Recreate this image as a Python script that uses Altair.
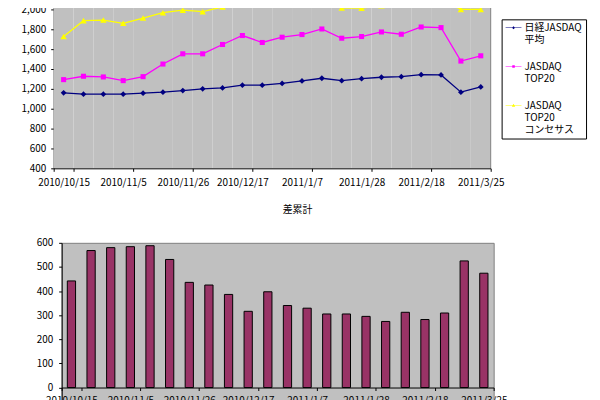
import altair as alt
import pandas as pd

FONT = "Noto Sans CJK JP"

dates = ["2010/10/15", "2010/10/22", "2010/10/29", "2010/11/5", "2010/11/12", "2010/11/19",
         "2010/11/26", "2010/12/3", "2010/12/10", "2010/12/17", "2010/12/24", "2010/12/31",
         "2011/1/7", "2011/1/14", "2011/1/21", "2011/1/28", "2011/2/4", "2011/2/11",
         "2011/2/18", "2011/2/25", "2011/3/18", "2011/3/25"]
nikkei = [1160, 1147, 1147, 1147, 1157, 1167, 1183, 1200, 1210, 1237, 1237, 1255,
          1280, 1307, 1283, 1303, 1317, 1323, 1343, 1340, 1167, 1220]
top20 = [1293, 1327, 1320, 1283, 1323, 1450, 1553, 1553, 1647, 1737, 1667, 1720,
         1747, 1803, 1710, 1727, 1773, 1750, 1823, 1817, 1480, 1533]
consensus = [1727, 1887, 1893, 1860, 1913, 1967, 1993, 1977, 2025, 2048, 2050, 2048,
             2060, 2120, 2015, 2013, 2037, 2060, 2080, 2100, 2000, 2000]
diff_cum = [442, 568, 580, 584, 588, 531, 436, 425, 386, 316, 397, 340,
            329, 305, 305, 295, 274, 312, 282, 309, 525, 474]

series_names = ["日経JASDAQ\n平均", "JASDAQ\nTOP20", "JASDAQ\nTOP20\nコンセサス"]
series_colors = ["#000080", "#FF00FF", "#FFFF00"]
marker_shapes = ["diamond", "square", "triangle-up"]
marker_sizes = [34, 26, 42]
legend_paths = [
    "M-1,-0.48H1V-0.40H-1Z M0,-0.62L0.19,-0.44L0,-0.26L-0.19,-0.44Z",
    "M-1,-0.48H1V-0.40H-1Z M-0.16,-0.60H0.16V-0.28H-0.16Z",
    "M-1,-0.48H1V-0.40H-1Z M0,-0.64L0.21,-0.26H-0.21Z",
]
top_domain = [400, 2200]
top_ticks = list(range(400, 2001, 200))
bar_domain = [-100, 600]
bar_ticks = list(range(-100, 601, 100))
bar_title = "差累計"
label_dates = dates[::3]

PLOT_BG = "#C0C0C0"
BORDER = "#808080"

rows = []
for name, vals in zip(series_names, [nikkei, top20, consensus]):
    for d, v in zip(dates, vals):
        rows.append({"date": d, "series": name, "value": v})
df_lines = pd.DataFrame(rows)
df_bar = pd.DataFrame({"date": dates, "diff": diff_cum})
df_bg = pd.DataFrame({"date": dates, "lo": top_domain[0], "hi": top_domain[1]})

axis_common = dict(title=None, labelFontSize=10, domainColor="black", tickColor="black",
                   labelColor="black", labelFont=FONT, tickSize=3)


def x_scale_top():
    return alt.Scale(type="band", domain=dates, range=[-8, 432], paddingInner=0,
                     paddingOuter=0)


def y_scale_top():
    return alt.Scale(domain=top_domain, nice=False, zero=False)


def x_axis_top():
    return alt.Axis(values=label_dates, tickBand="extent", labelAngle=0, labelPadding=6,
                    **axis_common)


def y_axis_top():
    return alt.Axis(values=top_ticks, format=",.0f", grid=False, labelPadding=5, offset=8,
                    **axis_common)


x_top = alt.X("date:N", sort=dates, scale=x_scale_top(), axis=x_axis_top())
y_top = alt.Y("value:Q", scale=y_scale_top(), axis=y_axis_top())

bg = alt.Chart(df_bg).mark_rect(color=PLOT_BG, strokeWidth=0).encode(
    x=alt.X("date:N", sort=dates, scale=x_scale_top(), axis=x_axis_top()),
    y=alt.Y("lo:Q", scale=y_scale_top(), axis=y_axis_top()),
    y2="hi:Q",
)
right_border = alt.Chart(df_bg).transform_filter(
    alt.FieldOneOfPredicate(field="date", oneOf=[dates[-1]])
).mark_rule(color=BORDER, strokeWidth=1).encode(
    x=alt.X("date:N", sort=dates, scale=x_scale_top(), bandPosition=1, axis=x_axis_top()),
    y=alt.Y("lo:Q", scale=y_scale_top(), axis=y_axis_top()),
    y2="hi:Q",
)

base_top = alt.Chart(df_lines)
layers = [bg, right_border]
for name, col in zip(series_names, series_colors):
    flt = alt.FieldOneOfPredicate(field="series", oneOf=[name])
    layers.append(base_top.transform_filter(flt).mark_line(color=col, strokeWidth=1.3)
                  .encode(x=x_top, y=y_top))
for name, col, shp, sz in zip(series_names, series_colors, marker_shapes, marker_sizes):
    flt = alt.FieldOneOfPredicate(field="series", oneOf=[name])
    layers.append(base_top.transform_filter(flt)
                  .mark_point(shape=shp, filled=True, color=col, size=sz, opacity=1)
                  .encode(x=x_top, y=y_top))

leg_kwargs = dict(title=None, orient="none", legendX=443, legendY=30, direction="vertical",
                  fillColor="white", strokeColor="black", padding=4, symbolSize=256,
                  symbolStrokeWidth=0, labelFont=FONT, labelFontSize=10, labelColor="black",
                  labelExpr="split(datum.label, '\\n')", labelBaseline="alphabetic",
                  labelOffset=3, rowPadding=17, labelLimit=300, cornerRadius=0)
legend_layer = base_top.mark_point(size=0, filled=True, opacity=1).encode(
    x=x_top, y=y_top,
    color=alt.Color("series:N", sort=series_names,
                    scale=alt.Scale(domain=series_names, range=series_colors),
                    legend=alt.Legend(**leg_kwargs)),
    shape=alt.Shape("series:N", sort=series_names,
                    scale=alt.Scale(domain=series_names, range=legend_paths),
                    legend=alt.Legend(**leg_kwargs)),
)
layers.append(legend_layer)

top = alt.layer(*layers).properties(
    width=432, height=180,
    view=alt.ViewBackground(fillOpacity=0, strokeOpacity=0),
)

bars = alt.Chart(df_bar).mark_bar(color="#993366", stroke="black", strokeWidth=1,
                                  width=alt.RelativeBandSize(0.42)).encode(
    x=alt.X("date:N", sort=dates,
            scale=alt.Scale(type="band", domain=dates, paddingInner=0, paddingOuter=0),
            axis=alt.Axis(values=label_dates, tickBand="extent", labelAngle=0,
                          offset=-24.3, labelPadding=5, **axis_common)),
    y=alt.Y("diff:Q", scale=alt.Scale(domain=bar_domain, nice=False),
            axis=alt.Axis(values=bar_ticks, grid=False, labelPadding=6, minExtent=48,
                          maxExtent=48, **axis_common)),
).properties(
    width=435, height=170,
    view=alt.ViewBackground(fill=PLOT_BG, stroke=BORDER),
    title=alt.TitleParams(bar_title, fontSize=10, offset=23, dx=20, anchor="middle",
                          frame="group", font=FONT, fontWeight="normal", color="black"),
)

chart = alt.vconcat(top, bars, spacing=17).properties(
    padding={"left": 5, "top": -21, "right": 5, "bottom": 5}
).configure(font=FONT)

chart.save("out.html", embed_options={"renderer": "svg", "actions": False})
